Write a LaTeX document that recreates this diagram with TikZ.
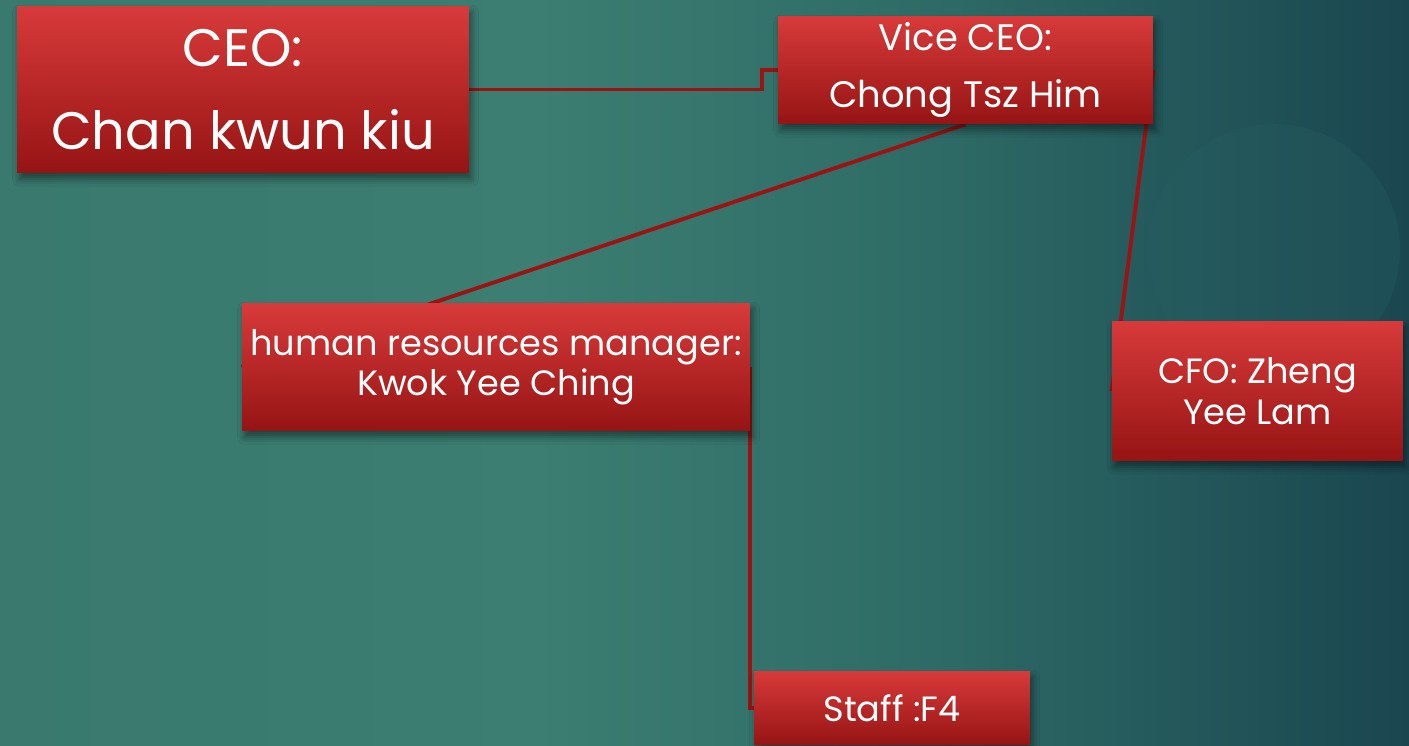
\documentclass[tikz,border=0pt]{standalone}
\usepackage{fontspec}
\setmainfont{Poppins}
\usetikzlibrary{positioning, shadows.blur, calc, backgrounds}
\definecolor{bgleft}{RGB}{57,121,110}
\definecolor{bgmid}{RGB}{60,126,114}
\definecolor{bgteal}{RGB}{46,107,102}
\definecolor{bgright}{RGB}{26,70,80}
\definecolor{boxtop}{RGB}{216,58,58}
\definecolor{boxbottom}{RGB}{150,20,20}
\definecolor{linkred}{RGB}{155,19,19}
\definecolor{ringteal}{RGB}{40,96,100}
\pgfdeclarehorizontalshading{slidebg}{100bp}{color(0bp)=(bgleft); color(25bp)=(bgleft); color(44bp)=(bgmid); color(58bp)=(bgteal); color(75bp)=(bgright); color(100bp)=(bgright)}

\begin{document}
\begin{tikzpicture}[
        x=0.02cm, y=-0.02cm,
        role/.style={top color=boxtop, bottom color=boxbottom, text=white, align=center, inner sep=0pt, blur shadow={shadow xshift=1.5pt, shadow yshift=-3.5pt, shadow blur radius=4pt, shadow opacity=45}},
        link/.style={draw=linkred, line width=2.2pt}
    ]
        \node[role, minimum width=9.04cm, minimum height=3.34cm, font=\fontsize{30}{47}\selectfont] (ceo) at (243,89.5) {CEO:\\Chan kwun kiu};
        \node[role, minimum width=7.5cm, minimum height=2.16cm, font=\fontsize{21}{32}\selectfont] (vice) at (965.5,70) {Vice CEO:\\Chong Tsz Him};
        \node[role, minimum width=10.16cm, minimum height=2.56cm, font=\fontsize{20}{23}\selectfont] (hr) at (496,367) {human resources manager:\\Kwok Yee Ching};
        \node[role, minimum width=5.82cm, minimum height=2.8cm, font=\fontsize{20}{23}\selectfont] (cfo) at (1257.5,391) {CFO: Zheng\\Yee Lam};
        \node[role, minimum width=5.52cm, minimum height=1.48cm, font=\fontsize{20}{23}\selectfont] (staff) at (892,708) {Staff :F4};

        \begin{scope}[on background layer]
            \shade[shading=slidebg] (0,0) rectangle (1409,746);
            \fill[ringteal, opacity=0.3] (1274,250) circle (2.52cm);
            \draw[link] (ceo.east) -| ($(vice.west)+(-16,0)$) -- (vice.west);
            \draw[link] (vice.south) -- (hr.west);
            \draw[link] (vice.east) -- (cfo.west);
            \draw[link] (hr.east) |- (staff.west);
        \end{scope}
        \useasboundingbox (0,0) rectangle (1409,746);
    \end{tikzpicture}
\end{document}
